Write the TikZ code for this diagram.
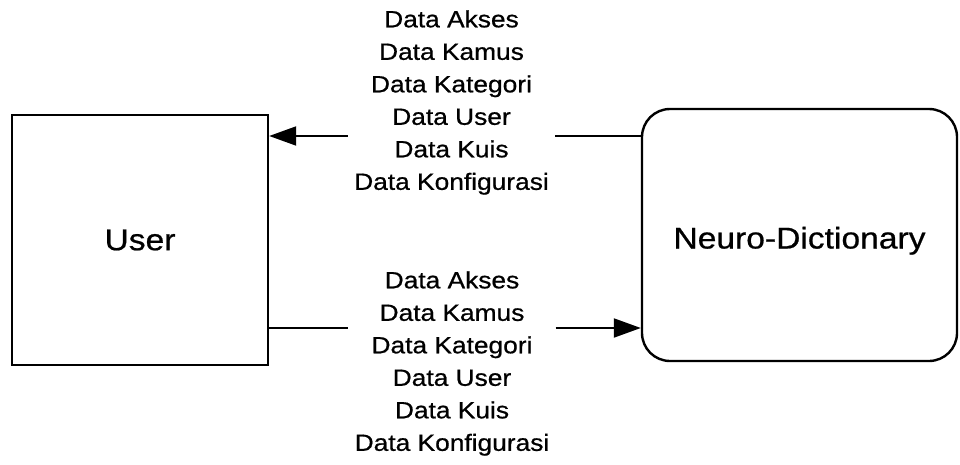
\documentclass[tikz,border=0pt]{standalone}
\usepackage{fontspec}
\setmainfont[FakeStretch=1.12,FakeBold=0.7]{Liberation Sans}
\usetikzlibrary{arrows.meta}
\begin{document}
\begin{tikzpicture}[x=1pt,y=-1pt,
  entity/.style={draw, line width=2.4pt, inner sep=0pt, font=\fontsize{30}{35}\selectfont},
  flowline/.style={line width=2pt},
  flowarrow/.style={line width=2pt, -{Triangle[length=27pt,width=19pt]}},
  lbl/.style={align=center, font=\fontsize{23.5}{32.5}\selectfont, inner sep=0pt, minimum width=207pt}]
\useasboundingbox (0,0) rectangle (960,465);
\node[entity, minimum width=256pt, minimum height=250pt] (user) at (140,240) {User};
\node[entity, minimum width=315pt, minimum height=252pt, rounded corners=28pt, text height=33pt, text depth=6pt] (neuro) at (799.5,235) {Neuro-Dictionary};
\node[lbl] (lblA) at (451.5,102.5) {Data Akses\\Data Kamus\\Data Kategori\\Data User\\Data Kuis\\Data Konfigurasi};
\node[lbl] (lblB) at (452,363.5) {Data Akses\\Data Kamus\\Data Kategori\\Data User\\Data Kuis\\Data Konfigurasi};
\coordinate (ty) at (0,136);
\coordinate (by) at (0,328);
\draw[flowline] (neuro.west |- ty) -- (lblA.east |- ty);
\draw[flowarrow] (lblA.west |- ty) -- (user.east |- ty);
\draw[flowline] (user.east |- by) -- (lblB.west |- by);
\draw[flowarrow] (lblB.east |- by) -- (neuro.west |- by);
\end{tikzpicture}
\end{document}
